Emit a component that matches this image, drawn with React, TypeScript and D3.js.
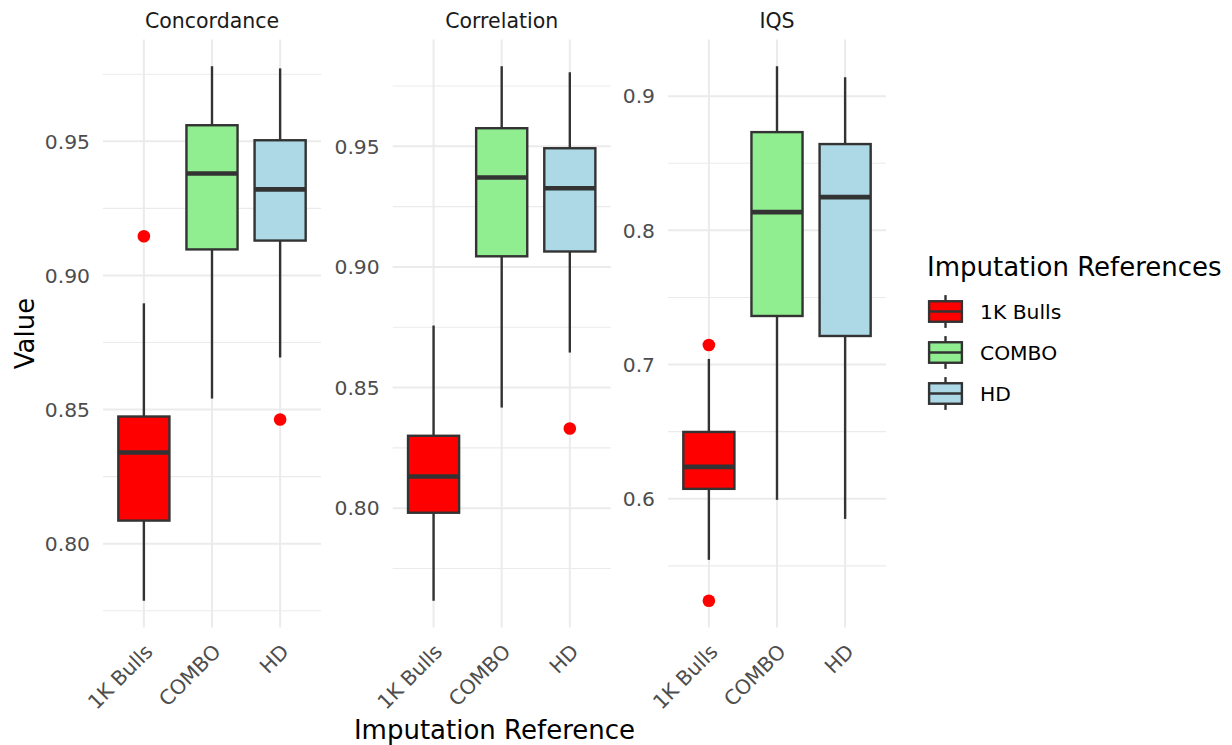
import React from "react";
import * as d3 from "d3";

const categories = ["1K Bulls", "COMBO", "HD"];
const metrics = ["Concordance", "Correlation", "IQS"];
const fills = ["#FF0000", "#90EE90", "#ADD8E6"];

// [lower whisker, q1, median, q3, upper whisker] per category
const concordanceStats = [
  [0.7787, 0.8086, 0.834, 0.8474, 0.8896],
  [0.8541, 0.9097, 0.938, 0.956, 0.978],
  [0.8694, 0.913, 0.9321, 0.9504, 0.9772],
];
const concordanceOutliers = [[0.9146], [], [0.8463]];

const correlationStats = [
  [0.7616, 0.7981, 0.8131, 0.83, 0.8757],
  [0.8417, 0.9044, 0.9371, 0.9575, 0.9832],
  [0.8645, 0.9064, 0.9326, 0.9492, 0.9807],
];
const correlationOutliers = [[], [], [0.833]];

const iqsStats = [
  [0.5545, 0.6074, 0.6238, 0.6498, 0.7042],
  [0.5992, 0.7362, 0.8136, 0.8732, 0.9223],
  [0.585, 0.7213, 0.8248, 0.8643, 0.9141],
];
const iqsOutliers = [[0.7146, 0.524], [], []];

const concordanceTicks = [0.8, 0.85, 0.9, 0.95];
const correlationTicks = [0.8, 0.85, 0.9, 0.95];
const iqsTicks = [0.6, 0.7, 0.8, 0.9];
const tickDigits = [2, 2, 1];

const panelStats = [concordanceStats, correlationStats, iqsStats];
const panelOutliers = [concordanceOutliers, correlationOutliers, iqsOutliers];
const panelTicks = [concordanceTicks, correlationTicks, iqsTicks];

const W = 1232;
const H = 745;
const panelLefts = [103, 392.7, 668];
const panelW = 218;
const top = 39.5;
const bottom = 627.5;
const FONT = "'DejaVu Sans', sans-serif";
const LINE = "#333333";
const GRID = "#EBEBEB";

function Panel({ idx }: { idx: number }) {
  const stats = panelStats[idx];
  const outs = panelOutliers[idx];
  const ticks = panelTicks[idx];
  const all = stats.flat().concat(outs.flat());
  const [mn, mx] = d3.extent(all) as [number, number];
  const pad = (mx - mn) * 0.05;
  const y = d3.scaleLinear().domain([mn - pad, mx + pad]).range([bottom, top]);
  const left = panelLefts[idx];
  const x = d3
    .scalePoint<string>()
    .domain(categories)
    .range([left, left + panelW])
    .padding(0.6);
  const bw = x.step() * 0.75;
  const step = ticks[1] - ticks[0];
  const minors: number[] = [];
  for (let i = -1; i < ticks.length; i++) {
    const v = (i < 0 ? ticks[0] - step : ticks[i]) + step / 2;
    const [d0, d1] = y.domain();
    if (v >= d0 && v <= d1) minors.push(v);
  }
  const fmt = d3.format(`.${tickDigits[idx]}f`);
  return (
    <g>
      {minors.map((v) => (
        <line key={"mi" + v} x1={left} x2={left + panelW} y1={y(v)} y2={y(v)} stroke={GRID} strokeWidth={1.1} />
      ))}
      {ticks.map((v) => (
        <line key={"ma" + v} x1={left} x2={left + panelW} y1={y(v)} y2={y(v)} stroke={GRID} strokeWidth={2} />
      ))}
      {categories.map((c) => (
        <line key={"v" + c} x1={x(c)} x2={x(c)} y1={top} y2={bottom} stroke={GRID} strokeWidth={2} />
      ))}
      {ticks.map((v) => (
        <text key={"t" + v} x={left - 13} y={y(v)} dy="0.36em" textAnchor="end" fontSize={20.3} fill="#4D4D4D" fontFamily={FONT}>
          {fmt(v)}
        </text>
      ))}
      <text x={left + panelW / 2} y={27.5} textAnchor="middle" fontSize={20.5} fill="#1A1A1A" fontFamily={FONT}>
        {metrics[idx]}
      </text>
      {categories.map((c, i) => {
        const [lo, q1, md, q3, hi] = stats[i];
        const cx = x(c) as number;
        return (
          <g key={"b" + c}>
            <line x1={cx} x2={cx} y1={y(hi)} y2={y(q3)} stroke={LINE} strokeWidth={2.4} />
            <line x1={cx} x2={cx} y1={y(q1)} y2={y(lo)} stroke={LINE} strokeWidth={2.4} />
            <rect x={cx - bw / 2} y={y(q3)} width={bw} height={y(q1) - y(q3)} fill={fills[i]} stroke={LINE} strokeWidth={2.4} />
            <line x1={cx - bw / 2} x2={cx + bw / 2} y1={y(md)} y2={y(md)} stroke={LINE} strokeWidth={4.6} />
            {outs[i].map((o) => (
              <circle key={"o" + o} cx={cx} cy={y(o)} r={6.3} fill="#FF0000" />
            ))}
          </g>
        );
      })}
      {categories.map((c) => (
        <text
          key={"xl" + c}
          transform={`translate(${(x(c) as number) + 10},${653}) rotate(-45)`}
          textAnchor="end"
          fontSize={20.3}
          fill="#4D4D4D"
          fontFamily={FONT}
        >
          {c}
        </text>
      ))}
    </g>
  );
}

function Legend() {
  const kx = 925;
  const ky0 = 291;
  const ks = 41;
  return (
    <g>
      <text x={927} y={276} fontSize={26} fill="#000" fontFamily={FONT}>
        Imputation References
      </text>
      {categories.map((c, i) => {
        const ky = ky0 + i * ks;
        const cx = kx + ks / 2;
        return (
          <g key={"lg" + c}>
            <line x1={cx} x2={cx} y1={ky + ks * 0.1} y2={ky + ks * 0.9} stroke={LINE} strokeWidth={2.4} />
            <rect x={kx + ks * 0.1} y={ky + ks * 0.25} width={ks * 0.8} height={ks * 0.5} fill={fills[i]} stroke={LINE} strokeWidth={2.4} />
            <line x1={kx + ks * 0.1} x2={kx + ks * 0.9} y1={ky + ks / 2} y2={ky + ks / 2} stroke={LINE} strokeWidth={2.4} />
            <text x={980} y={ky + ks / 2} dy="0.36em" fontSize={20.3} fill="#000" fontFamily={FONT}>
              {c}
            </text>
          </g>
        );
      })}
    </g>
  );
}

export default function App() {
  return (
    <svg width={W} height={H} style={{ position: "absolute", left: 0, top: 0, background: "#fff" }}>
      <rect width={W} height={H} fill="#fff" />
      {metrics.map((m, i) => (
        <Panel key={m} idx={i} />
      ))}
      <text transform={`translate(34,${(top + bottom) / 2}) rotate(-90)`} textAnchor="middle" fontSize={26} fill="#000" fontFamily={FONT}>
        Value
      </text>
      <text x={(panelLefts[0] + panelLefts[2] + panelW) / 2} y={739} textAnchor="middle" fontSize={26} fill="#000" fontFamily={FONT}>
        Imputation Reference
      </text>
      <Legend />
    </svg>
  );
}
